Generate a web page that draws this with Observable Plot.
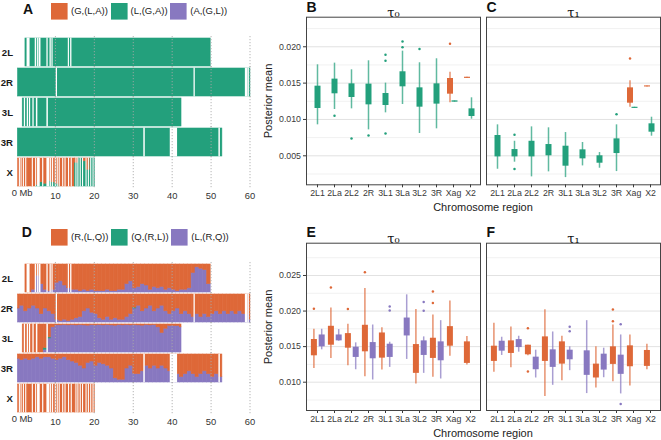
<!DOCTYPE html>
<html><head><meta charset="utf-8">
<script src="https://cdn.jsdelivr.net/npm/d3@7"></script>
<script src="https://cdn.jsdelivr.net/npm/@observablehq/plot@0.6"></script>
<style>
html,body{margin:0;padding:0;background:#fff;overflow:hidden;}
#root{position:relative;width:661px;height:440px;font-family:"Liberation Sans",Arial,sans-serif;color:#222;}
.abs{position:absolute;}
.letter{position:absolute;font-size:14px;line-height:14px;font-weight:bold;color:#111;}
.lg-swatches-wrap{min-height:0!important;margin:0!important;flex-wrap:nowrap!important;}
.lg-swatch{margin-right:2.7px!important;}
.lg-swatch>svg{margin-right:3.4px!important;}
.ytitle{position:absolute;font-size:11px;white-space:nowrap;transform:translate(-50%,-50%) rotate(-90deg);color:#222;}
.xtitle{position:absolute;font-size:11px;white-space:nowrap;transform:translate(-50%,-50%);color:#222;}
</style></head><body><div id="root"></div>
<script>
// ---------- colours ----------
const orange = "#DE6838", green = "#23A07C", purple = "#8878C0";

// ---------- chromosome panels ----------
const chroms = ["2L","2R","3L","3R","X"];
const chromStart = [2.3, 0.4, 1.6, 0.35, 0.43];   // Mb
const chromEnd   = [49.9, 60.1, 42.4, 52.9, 20.1];
const mbTicks = [10, 20, 30, 40, 50, 60];

const topoA = ["(G,(L,A))","(L,(G,A))","(A,(G,L))"];
const topoD = ["(R,(L,Q))","(Q,(R,L))","(L,(R,Q))"];

// missing windows (white stripes), Mb
const gaps2L = [[2.8,3.4],[4.9,5.1],[5.5,5.7],[6.0,6.2],[7.9,8.05],[8.7,8.85],[9.2,9.32],[13.4,13.52],[14.0,14.15]];
const gaps2R = [[10.3,10.45],[45.7,45.85],[58.9,59.4],[59.6,59.75]];
const gaps3L = [[2.1,2.25],[2.85,3.0],[3.4,3.55],[4.3,4.45],[5.2,5.4],[7.9,8.1]];
const gaps3R = [[32.8,33.0],[39.6,41.3],[52.1,52.3]];
const gapsX  = [[0.82,0.92],[1.25,1.35],[1.85,1.95],[2.45,2.55],[4.15,4.25],[5.0,5.1],[5.5,6.0],[6.8,6.92],[7.9,8.5],[8.85,8.95],[9.35,9.45],[10.05,10.15],[10.55,10.65],[11.05,11.15],[11.95,12.05],[12.55,12.65],[13.45,13.55],[14.15,14.25],[15.35,15.45],[15.85,15.95],[16.45,16.55],[17.05,17.15],[17.95,18.05],[18.55,18.65],[19.15,19.25],[19.75,19.85]];
const gapsAll = [gaps2L, gaps2R, gaps3L, gaps3R, gapsX];

// Panel A: share of (L,(G,A)) per 1-Mb bin on X (autosomes are entirely (L,(G,A)))
const aXGreen = [0,0,0,0,0,0.05,0.15,0.1,0.2,0.15,0.1,0,0,0,0,0.85,1,0.9,0.6,1,1];

// Panel D: share of (L,(R,Q)) per 1-Mb bin (bins start at floor(chromStart))
const d2L = [0,0,0.1,0.6,0.3,0.1,0.05,0.1,0.35,0.4,0.25,0.15,0.1,0.1,0.05,0.1,0.05,0.1,0.05,0.05,0.05,0.1,0.05,0.05,0.1,0.1,0.3,0.4,0.15,0.2,0.3,0.25,0.1,0.2,0.15,0.2,0.1,0.15,0.1,0.05,0.1,0.1,0.15,0.7,0.9,0.85,0.8,0.3];
const d2R = [0.5,0.6,0.4,0.5,0.6,0.5,0.3,0.5,0.4,0.3,0.1,0.05,0.1,0.05,0.1,0.15,0.2,0.4,0.5,0.35,0.3,0.15,0.1,0.2,0.1,0.15,0.1,0.1,0.2,0.3,0.5,0.6,0.4,0.5,0.6,0.4,0.5,0.6,0.4,0.3,0.4,0.5,0.3,0.4,0.3,0.2,0.3,0.2,0.3,0.2,0.3,0.4,0.3,0.4,0.3,0.4,0.3,0.4,0.3,0.3,0.1];
const d3L = [0,0,0,0,0,0,0.1,0.5,0.9,0.97,0.97,0.98,0.97,0.98,0.97,0.98,0.97,0.96,0.98,0.97,0.98,0.97,0.98,0.97,0.96,0.98,0.97,0.98,0.97,0.98,0.97,0.96,0.98,0.97,0.98,0.9,0.7,0.85,0.95,0.95,0.95,0.9];
const d3R = [0.85,0.8,0.85,0.8,0.85,0.9,0.85,0.9,0.9,0.85,0.8,0.85,0.9,0.8,0.75,0.7,0.6,0.5,0.7,0.75,0.6,0.7,0.65,0.6,0.5,0.15,0.1,0.1,0.5,0.6,0.3,0.3,0.4,0.6,0.5,0.6,0.5,0.6,0.5,0.4,0.3,0.3,0.2,0.3,0.4,0.3,0.2,0.3,0.4,0.3,0.2,0.3,0.2];
const dX  = [0,0,0,0,0,0,0,0,0,0,0,0,0,0,0,0,0,0,0,0,0];
const dPurple = [d2L, d2R, d3L, d3R, dX];
// Panel D: small (Q,(R,L)) shares: [chromosome, bin start Mb, share]
const dGreenBits = [["3L", 7, 0.06], ["3L", 8, 0.04], ["2R", 30, 0.03]];

// ---------- boxplot panels ----------
const regions = ["2L1","2La","2L2","2R","3L1","3La","3L2","3R","Xag","X2"];
// each entry: [lower whisker, Q1, Q3, upper whisker]
const bGreen = [[0.00926,0.01151,0.01458,0.01752],[0.01137,0.01353,0.01555,0.01775],[0.01146,0.01302,0.01490,0.01683],[0.00857,0.01201,0.01486,0.01807],[0.01091,0.01192,0.01357,0.01500],[0.01206,0.01449,0.01656,0.01940],[0.00807,0.01169,0.01435,0.01780],[0.00871,0.01211,0.01490,0.01835],[0.01238,0.01238,0.01256,0.01256],[0.01004,0.01041,0.01146,0.01298]];
const bOrange = [null,null,null,null,null,null,null,null,[0.01229,0.01348,0.01564,0.01651],[0.01565,0.01565,0.01581,0.01581]];
const bGreenOut = [["2La",0.0105],["2L2",0.00738],["2R",0.00779],["3L1",0.0189],["3L1",0.01807],["3L1",0.00807],["3La",0.02073],["3La",0.01995],["3L2",0.01968]];
const bOrangeOut = [["Xag",0.02041]];

const cGreen = [[0.00315,0.00485,0.00779,0.00926],[0.00412,0.00485,0.00586,0.00700],[0.00210,0.00485,0.00700,0.00898],[0.00279,0.00500,0.00655,0.00885],[0.00200,0.00357,0.00632,0.00820],[0.00361,0.00458,0.00582,0.00683],[0.00329,0.00398,0.00500,0.00545],[0.00283,0.00531,0.00733,0.00926],[0.01152,0.01152,0.01168,0.01168],[0.00770,0.00825,0.00940,0.01031]];
const cOrange = [null,null,null,null,null,null,null,null,[0.01169,0.01224,0.01435,0.01532],[0.01447,0.01447,0.01462,0.01462]];
const cGreenOut = [["2La",0.00788],["2La",0.0032],["3R",0.01073]];
const cOrangeOut = [["Xag",0.01839]];

const eOrange = [[0.01194,0.01371,0.01600,0.01744],[0.01334,0.01520,0.01786,0.02042],[0.01231,0.01478,0.01683,0.01814],[0.01077,0.01427,0.01800,0.02317],[0.01171,0.01338,0.01692,0.01767],null,[0.00975,0.01124,0.01529,0.02023],[0.01068,0.01334,0.01618,0.01944],[0.01366,0.01506,0.01781,0.02140],[0.01240,0.01264,0.01567,0.01641]];
const ePurple = [[0.01455,0.01497,0.01664,0.01744],[0.01576,0.01581,0.01664,0.01740],[0.01175,0.01348,0.01492,0.01553],[0.01031,0.01329,0.01557,0.01804],[0.01208,0.01348,0.01534,0.01562],[0.01320,0.01650,0.01902,0.02228],[0.01124,0.01376,0.01581,0.01637],[0.01045,0.01301,0.01567,0.01865],null,null];
const eOrangeOut = [["2L1",0.02033],["2La",0.02331],["2L2",0.02028],["2R",0.02545],["3R",0.02275],["3R",0.02112]];
const ePurpleOut = [["3L1",0.02065],["3L1",0.02009],["3L2",0.02126],["3L2",0.02005]];

const fOrange = [[0.01138,0.01292,0.01506,0.01828],[0.01203,0.01404,0.01581,0.01776],[0.01371,0.01385,0.01520,0.01520],[0.00798,0.01292,0.01637,0.02019],[0.01021,0.01254,0.01567,0.01646],null,[0.00919,0.01059,0.01254,0.01497],[0.01007,0.01250,0.01497,0.01804],[0.00947,0.01217,0.01511,0.01664],[0.01175,0.01222,0.01446,0.01534]];
const fPurple = [[0.01376,0.01436,0.01576,0.01632],[0.01422,0.01487,0.01599,0.01646],[0.01059,0.01175,0.01352,0.01450],[0.00956,0.01208,0.01455,0.01706],[0.01162,0.01315,0.01450,0.01497],[0.00840,0.01096,0.01441,0.01865],[0.01063,0.01170,0.01394,0.01478],[0.00835,0.01110,0.01380,0.01664],null,null];
const fOrangeOut = [["2L2",0.01758],["2L2",0.01152],["3R",0.02023],["3R",0.01856]];
const fPurpleOut = [["3L1",0.01781],["3L1",0.01716],["3R",0.01814],["3R",0.00695]];

const topTicks = [0.005, 0.010, 0.015, 0.020];
const topMinor = [0.0025, 0.0075, 0.0125, 0.0175, 0.0225];
const botTicks = [0.010, 0.015, 0.020, 0.025];
const botMinor = [0.0075, 0.0125, 0.0175, 0.0225, 0.0275];

// ---------- helpers ----------
const FONT = "Liberation Sans, Arial, Helvetica, sans-serif";
const root = document.getElementById("root");
function place(node, left, top) {
  node.style.position = "absolute"; node.style.left = left + "px"; node.style.top = top + "px";
  root.appendChild(node); return node;
}
function addDiv(cls, text, left, top) {
  const d = document.createElement("div"); d.className = cls; d.textContent = text;
  d.style.left = left + "px"; d.style.top = top + "px"; root.appendChild(d); return d;
}

function gapRows() {
  const rows = [];
  gapsAll.forEach((g, i) => g.forEach(([a, b]) => rows.push({chrom: chroms[i], x1: a, x2: b})));
  return rows;
}

function chromPlot(windows, topo) {
  return Plot.plot({
    width: 260, height: 205,
    marginLeft: 16, marginRight: 10.5, marginTop: 37.3, marginBottom: 18.7,
    style: {fontFamily: FONT, fontSize: "9.4px", color: "#333", background: "transparent", overflow: "visible"},
    x: {domain: [0, 60], ticks: mbTicks, tickSize: 0, tickPadding: 6, label: null},
    y: {domain: [0, 1], axis: null},
    fy: {domain: chroms, padding: 0.068, axis: null, label: null},
    color: {domain: topo, range: [orange, green, purple]},
    marks: [
      Plot.rect(windows, {x1: "x1", x2: "x2", y1: "y1", y2: "y2", fy: "chrom", fill: "topo", stroke: "topo", strokeWidth: 0.6}),
      Plot.rect(gapRows(), {x1: "x1", x2: "x2", y1: 0, y2: 1, fy: "chrom", fill: "white", insetLeft: -0.35, insetRight: -0.35, insetTop: -0.4, insetBottom: -0.4}),
      Plot.ruleX(mbTicks, {x: d => d, stroke: "#a8a8a8", strokeOpacity: 0.85, strokeDasharray: "1.2,1.8", insetTop: -2, insetBottom: -2}),
      Plot.text(chroms, {fy: d => d, text: d => d, frameAnchor: "left", dx: -3.5, textAnchor: "end", fontWeight: "bold", fontSize: 9.6, fill: "#1a1a1a"}),
      Plot.text([0], {x: d => d, fy: () => "X", text: () => "0 Mb", frameAnchor: "bottom", dy: 9.6, dx: 5.6, fill: "#333"})
    ]
  });
}

function panelAWindows() {
  const w = [];
  chroms.forEach((c, i) => {
    if (c !== "X") { w.push({chrom: c, x1: chromStart[i], x2: chromEnd[i], y1: 0, y2: 1, topo: topoA[1]}); return; }
    const b0 = Math.floor(chromStart[i]);
    aXGreen.forEach((g, k) => {
      const x1 = Math.max(b0 + k, chromStart[i]), x2 = Math.min(b0 + k + 1, chromEnd[i]);
      if (g > 0) w.push({chrom: c, x1, x2, y1: 0, y2: g, topo: topoA[1]});
      if (g < 1) w.push({chrom: c, x1, x2, y1: g, y2: 1, topo: topoA[0]});
    });
  });
  return w;
}
function panelDWindows() {
  const w = [];
  chroms.forEach((c, i) => {
    const b0 = Math.floor(chromStart[i]);
    dPurple[i].forEach((p, k) => {
      const x1 = Math.max(b0 + k, chromStart[i]), x2 = Math.min(b0 + k + 1, chromEnd[i]);
      if (x2 <= x1) return;
      const gb = dGreenBits.find(([cc, b]) => cc === c && b === b0 + k);
      const g = gb ? gb[2] : 0;
      if (p > 0) w.push({chrom: c, x1, x2, y1: 0, y2: p, topo: topoD[2]});
      if (g > 0) w.push({chrom: c, x1, x2, y1: p, y2: p + g, topo: topoD[1]});
      if (p + g < 1) w.push({chrom: c, x1, x2, y1: p + g, y2: 1, topo: topoD[0]});
    });
  });
  return w;
}

function legend(topo, left, top) {
  const lg = Plot.legend({
    legend: "swatches",
    color: {type: "ordinal", domain: topo, range: [orange, green, purple]},
    swatchSize: 16.6, className: "lg",
    style: {fontFamily: FONT, fontSize: "9.5px", color: "#222"}
  });
  return place(lg, left, top);
}

function rowsOf(arr, tau) {
  return arr.map((v, i) => v && {tau, region: regions[i], lo: v[0], q1: v[1], q3: v[2], hi: v[3]}).filter(Boolean);
}
function outsOf(arr, tau) { return arr.map(([region, y]) => ({tau, region, y})); }

function boxMarks(rows, outs, color, dx) {
  return [
    Plot.ruleX(rows, {fx: "tau", x: "region", y1: "lo", y2: "hi", stroke: color, strokeWidth: 1.5, strokeOpacity: 0.72, dx}),
    Plot.ruleX(rows, {fx: "tau", x: "region", y1: "q1", y2: "q3", stroke: color, strokeWidth: 6, dx}),
    Plot.dot(outs, {fx: "tau", x: "region", y: "y", r: 1.25, fill: color, stroke: null, dx})
  ];
}

function boxPlot(height, marginTop, marginBottom, yDomain, ticks, minor, seriesMarks) {
  return Plot.plot({
    width: 406, height, marginLeft: 51, marginRight: 1, marginTop, marginBottom,
    style: {fontFamily: FONT, fontSize: "8.8px", color: "#3a3a3a", background: "transparent", overflow: "visible"},
    fx: {domain: ["t0", "t1"], paddingInner: 6 / 180, paddingOuter: 0, axis: null, label: null},
    x: {type: "point", domain: regions, padding: 0.6, tickSize: 3, tickPadding: 2, label: null},
    y: {domain: yDomain, ticks, tickFormat: d3.format(".3f"), tickSize: 3, tickPadding: 2.5, label: null},
    marks: [
      Plot.ruleY(minor, {y: d => d, stroke: "#f1f1f1"}),
      Plot.ruleY(ticks, {y: d => d, stroke: "#e2e2e2"}),
      ...seriesMarks,
      Plot.frame({stroke: "#444", strokeWidth: 1}),
      Plot.text(["t0", "t1"], {fx: d => d, text: d => d === "t0" ? "τ₀" : "τ₁", frameAnchor: "top", dy: -9.5, fontSize: 13, fontFamily: "DejaVu Serif", fill: "#111"})
    ]
  });
}

// ---------- build ----------
place(chromPlot(panelAWindows(), topoA), 0, 0);
place(chromPlot(panelDWindows(), topoD), 0, 226);
legend(topoA, 51, 2.7);
legend(topoD, 51, 228.7);

// B & C
{
  const hasOrange = new Set(regions.filter((r, i) => bOrange[i] || cOrange[i]));
  const g = [...rowsOf(bGreen, "t0"), ...rowsOf(cGreen, "t1")];
  const gOut = [...outsOf(bGreenOut, "t0"), ...outsOf(cGreenOut, "t1")];
  const o = [...rowsOf(bOrange, "t0"), ...rowsOf(cOrange, "t1")];
  const oOut = [...outsOf(bOrangeOut, "t0"), ...outsOf(cOrangeOut, "t1")];
  const marks = [
    ...boxMarks(g.filter(d => !hasOrange.has(d.region)), gOut.filter(d => !hasOrange.has(d.region)), green, 0),
    ...boxMarks(o, oOut, orange, -3.5),
    ...boxMarks(g.filter(d => hasOrange.has(d.region)), gOut.filter(d => hasOrange.has(d.region)), green, 1)
  ];
  place(boxPlot(215, 16.7, 30.7, [0.00101, 0.02407], topTicks, topMinor, marks), 255, 0);
}
// E & F
{
  const o = [...rowsOf(eOrange, "t0"), ...rowsOf(fOrange, "t1")];
  const oOut = [...outsOf(eOrangeOut, "t0"), ...outsOf(fOrangeOut, "t1")];
  const p = [...rowsOf(ePurple, "t0"), ...rowsOf(fPurple, "t1")];
  const pOut = [...outsOf(ePurpleOut, "t0"), ...outsOf(fPurpleOut, "t1")];
  const marks = [...boxMarks(o, oOut, orange, -3.6), ...boxMarks(p, pOut, purple, 4.2)];
  place(boxPlot(214, 16.7, 30, [0.00602, 0.02954], botTicks, botMinor, marks), 255, 226);
}

// titles and panel letters
addDiv("ytitle", "Posterior mean", 268, 100.5);
addDiv("ytitle", "Posterior mean", 268, 326.5);
addDiv("xtitle", "Chromosome region", 483, 207.3);
addDiv("xtitle", "Chromosome region", 483, 433.3);
addDiv("letter", "A", 23, 1.5);
addDiv("letter", "B", 306.5, 0);
addDiv("letter", "C", 486.5, 0);
addDiv("letter", "D", 21.7, 225);
addDiv("letter", "E", 306.5, 225);
addDiv("letter", "F", 486.5, 225);
</script></body></html>
